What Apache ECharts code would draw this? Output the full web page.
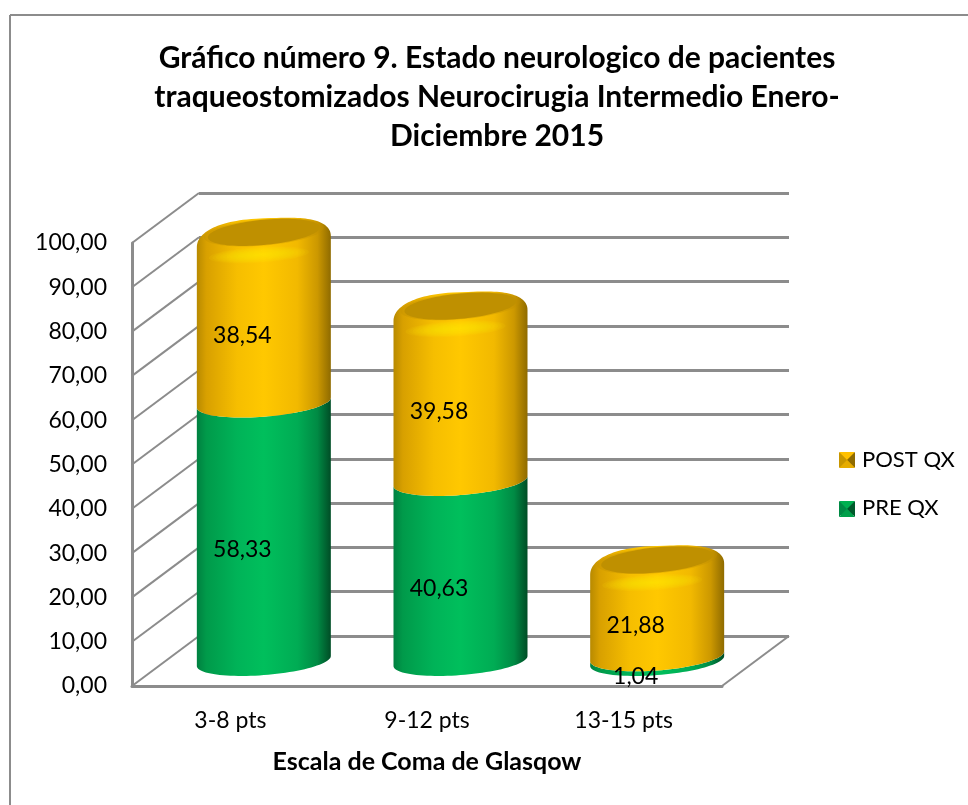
<!DOCTYPE html>
<html><head><meta charset="utf-8">
<style>html,body{margin:0;padding:0;background:#fff}#c{width:968px;height:805px}</style>
<script src="https://cdn.jsdelivr.net/npm/echarts@6/dist/echarts.min.js"></script>
</head><body><div id="c"></div>
<script>
const categories = ['3-8 pts', '9-12 pts', '13-15 pts'];
const preQx = [58.33, 40.63, 1.04];
const postQx = [38.54, 39.58, 21.88];
const titleText = 'Gráfico número 9. Estado neurologico de pacientes\ntraqueostomizados Neurocirugia Intermedio Enero-\nDiciembre 2015';
const xName = 'Escala de Coma de Glasqow';
const gridTicks = [0,10,20,30,40,50,60,70,80,90,100];

const FONT = 'Lato';
const DX = 67, DY = -50, RX = 67, RY = 14.1, TILT = 5;
const GRAY = '#8c8c8c';

function fmt(v){ return v.toFixed(2).replace('.', ','); }

function lowerArc(cx, cy, reverse){
  const pts = [];
  for (let i = 0; i <= 48; i++) {
    const t = Math.PI * i / 48;
    pts.push([cx + RX * Math.cos(t), cy - TILT * Math.cos(t) + RY * Math.sin(t)]);
  }
  return reverse ? pts.reverse() : pts;
}
function fullEllipse(cx, cy, a, b, tilt){
  const pts = [];
  for (let i = 0; i < 96; i++) {
    const t = 2 * Math.PI * i / 96;
    pts.push([cx + a * Math.cos(t), cy - tilt * Math.cos(t) + b * Math.sin(t)]);
  }
  return pts;
}
function topDome(cx, cy){
  const pts = [];
  for (let i = 0; i <= 64; i++) {
    const t = Math.PI + Math.PI * i / 64;
    const c = Math.cos(t), s = Math.sin(t);
    const x = cx + RX * Math.sign(c) * Math.pow(Math.abs(c), 0.72);
    const y = cy + 10 - 5.5 * c - 23.5 * Math.pow(Math.abs(s), 0.9);
    pts.push([x, y]);
  }
  return pts;
}
const h = stops => ({type:'linear',x:0,y:0,x2:1,y2:0,colorStops:stops.map(s=>({offset:s[0],color:s[1]}))});
const goldGrad = h([[0,'#b88a00'],[0.07,'#d8a000'],[0.3,'#f6be00'],[0.5,'#ffc800'],[0.75,'#f2b900'],[0.9,'#cc9800'],[1,'#8f6b00']]);
const greenGrad = h([[0,'#008040'],[0.07,'#009a4a'],[0.3,'#00b358'],[0.5,'#00bf5c'],[0.75,'#00ac54'],[0.9,'#008a44'],[1,'#004d26']]);

function cylinder(isTop, base, vals, fill){
  return function(params, api){
    const i = api.value(0);
    const start = base ? base[i] : 0;
    const end = start + vals[i];
    const p0 = api.coord([i, start]);
    const p1 = api.coord([i, end]);
    const cx = p0[0] + DX / 2;
    const y0 = p0[1] + DY / 2, y1 = p1[1] + DY / 2;
    const poly = lowerArc(cx, y0, false);
    const children = [];
    if (isTop) {
      children.push({type:'polygon',shape:{points:poly.concat(topDome(cx, y1))},style:{fill:fill}});
      for (let k = 0; k < 14; k++) {
        const f = 1 - k / 14;
        children.push({type:'polygon',shape:{points:fullEllipse(cx - 5, y1 + 23, 50 * f, 8 * f, 3 * f)},
          style:{fill:'rgba(255,235,0,0.09)'}});
      }
      children.push({type:'polygon',shape:{points:fullEllipse(cx, y1 + 0.5, 60, 13.2, 5)},style:{fill:'rgba(191,144,0,0.35)'}});
      children.push({type:'polygon',shape:{points:fullEllipse(cx, y1 + 0.5, 56, 12.6, 5)},style:{fill:'#bf9000'}});
    } else {
      children.push({type:'polygon',shape:{points:poly.concat(lowerArc(cx, y1, true))},style:{fill:fill}});
    }
    return {type:'group',children:children};
  };
}

const labelData = [];
categories.forEach((c,i)=>{
  labelData.push([i, preQx[i]/2, preQx[i]]);
  labelData.push([i, preQx[i]+postQx[i]/2, postQx[i]]);
});

function legendBevel(x, y, s, cols){
  const m=[x+s/2,y+s/2], a=[x,y], b=[x+s,y], c=[x+s,y+s], d=[x,y+s];
  return [[a,b,m],[b,c,m],[c,d,m],[d,a,m]].map((p,i)=>({type:'polygon',z:100,silent:true,shape:{points:p},style:{fill:cols[i]}}));
}

const option = {
  animation:false,
  backgroundColor:'#fff',
  textStyle:{fontFamily:FONT},
  title:{text:titleText,left:492,top:34,textAlign:'center',
    textStyle:{fontFamily:FONT,fontWeight:'bold',fontSize:30,lineHeight:39,color:'#000'}},
  legend:{orient:'vertical',left:835,top:444,itemWidth:14,itemHeight:14,itemGap:26,icon:'rect',
    data:['POST QX','PRE QX'],selectedMode:false,
    textStyle:{fontFamily:FONT,fontSize:22,color:'#000',padding:[0,0,0,3]}},
  grid:[
    {left:132,top:243,width:590,height:443},
    {left:199,top:193,width:590,height:443}
  ],
  xAxis:[
    {type:'category',gridIndex:0,data:categories,
      axisTick:{show:false},axisLine:{lineStyle:{color:GRAY,width:3}},
      axisLabel:{fontFamily:FONT,fontSize:23,color:'#000',margin:23},
      name:xName,nameLocation:'middle',nameGap:63,
      nameTextStyle:{fontFamily:FONT,fontWeight:'bold',fontSize:25,color:'#000'}},
    {type:'category',gridIndex:1,data:categories,show:false}
  ],
  yAxis:[
    {type:'value',gridIndex:0,min:0,max:100,interval:10,
      axisLine:{show:true,lineStyle:{color:GRAY,width:3}},axisTick:{show:false},splitLine:{show:false},
      axisLabel:{fontFamily:FONT,fontSize:23,color:'#000',margin:25,padding:[3,0,0,0],formatter:v=>fmt(v)}},
    {type:'value',gridIndex:1,min:0,max:100,interval:10,
      axisLine:{show:false},axisTick:{show:false},axisLabel:{show:false},
      splitLine:{show:true,lineStyle:{color:GRAY,width:3}}}
  ],
  series:[
    {type:'custom',name:'walls',xAxisIndex:0,yAxisIndex:0,z:1,silent:true,
      data:gridTicks.map(v=>[v]),
      renderItem:(p,api)=>{
        const v=api.value(0);
        const a=api.coord([0,v]);
        const lines=[{type:'line',shape:{x1:p.coordSys.x,y1:a[1],x2:p.coordSys.x+DX,y2:a[1]+DY},style:{stroke:GRAY,lineWidth:2}}];
        if(v===0){
          const r=p.coordSys.x+p.coordSys.width;
          lines.push({type:'line',shape:{x1:r,y1:a[1],x2:r+DX,y2:a[1]+DY},style:{stroke:GRAY,lineWidth:2}});
        }
        return {type:'group',children:lines};
      }},
    {type:'custom',name:'PRE QX',xAxisIndex:0,yAxisIndex:0,z:3,silent:true,
      itemStyle:{color:'#00a452'},
      data:categories.map((c,i)=>[i]),
      renderItem:cylinder(false,null,preQx,greenGrad)},
    {type:'custom',name:'POST QX',xAxisIndex:0,yAxisIndex:0,z:4,silent:true,
      itemStyle:{color:'#e0a800'},
      data:categories.map((c,i)=>[i]),
      renderItem:cylinder(true,preQx,postQx,goldGrad)},
    {type:'custom',name:'labels',xAxisIndex:0,yAxisIndex:0,z:6,silent:true,
      data:labelData,
      renderItem:(p,api)=>{
        const c=api.coord([api.value(0),api.value(1)]);
        return {type:'text',x:c[0]+12,y:c[1]-7,style:{text:fmt(api.value(2)),fontFamily:FONT,fontSize:23,fill:'#000',align:'center',verticalAlign:'middle'}};
      }}
  ],
  graphic:[
    {type:'line',shape:{x1:10,y1:15,x2:968,y2:15},style:{stroke:'#8c8c8c',lineWidth:2},silent:true},
    {type:'line',shape:{x1:10,y1:15,x2:10,y2:805},style:{stroke:'#8c8c8c',lineWidth:2},silent:true}
  ].concat(legendBevel(839,452,16,['#ffc000','#8f6b00','#e6ac00','#c89600']))
   .concat(legendBevel(839,501,16,['#00b050','#005a2c','#00a04a','#008a44']))
};
echarts.init(document.getElementById('c'),null,{renderer:'canvas'}).setOption(option);
</script></body></html>
